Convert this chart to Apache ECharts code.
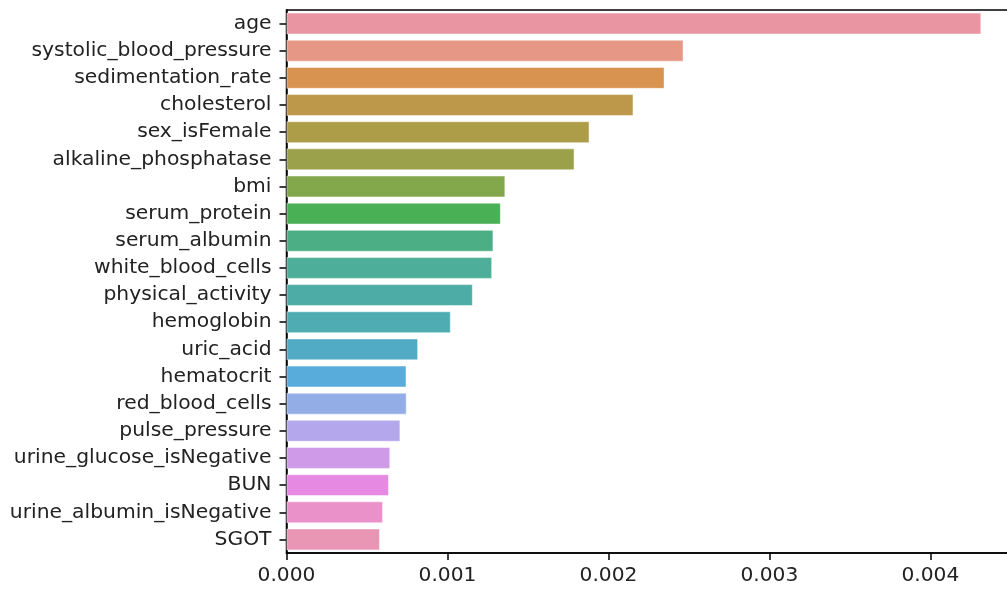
<!DOCTYPE html>
<html>
<head>
<meta charset="utf-8">
<script src="https://cdn.jsdelivr.net/npm/echarts@6/dist/echarts.min.js"></script>
<style>
html,body{margin:0;padding:0;background:#fff;}
#chart{width:1007px;height:589px;}
</style>
</head>
<body>
<div id="chart"></div>
<script>
const features = ["age","systolic_blood_pressure","sedimentation_rate","cholesterol","sex_isFemale","alkaline_phosphatase","bmi","serum_protein","serum_albumin","white_blood_cells","physical_activity","hemoglobin","uric_acid","hematocrit","red_blood_cells","pulse_pressure","urine_glucose_isNegative","BUN","urine_albumin_isNegative","SGOT"];
const importance = [0.004316,0.002466,0.002348,0.002155,0.001882,0.001789,0.001359,0.001331,0.001285,0.001277,0.001157,0.001020,0.000817,0.000745,0.000746,0.000707,0.000644,0.000636,0.000599,0.000580];
const barColors = ["#E995A2","#E69786","#D7934F","#BD974A","#AD9C48","#9BA14A","#83A84C","#4AB055","#4CAE84","#4DAE99","#4EACA7","#50ACB3","#52ABC4","#58ACDB","#93ADE6","#B5A7EC","#CF9AE7","#E689E3","#EA91C9","#E995B4"];
const xTicks = [0,0.001,0.002,0.003,0.004];

const chart = echarts.init(document.getElementById('chart'), null, {renderer:'canvas'});
const font = "'DejaVu Sans', sans-serif";
chart.setOption({
  animation:false,
  backgroundColor:'#fff',
  grid:{left:286.5,right:-9,top:10,bottom:36,show:true,borderColor:'#000',borderWidth:1.5,containLabel:false,outerBoundsMode:'none'},
  xAxis:{
    type:'value',min:0,max:0.004532,interval:0.001,
    axisLine:{show:true,lineStyle:{color:'#000',width:1.5}},
    axisTick:{show:true,length:7,lineStyle:{color:'#000',width:1.5}},
    splitLine:{show:false},
    axisLabel:{color:'#222',fontFamily:font,fontSize:20.2,margin:13,hideOverlap:false,
      formatter:function(v){ return xTicks.some(t=>Math.abs(t-v)<1e-9) ? v.toFixed(3) : ''; }}
  },
  yAxis:{
    type:'category',data:features,inverse:true,
    axisLine:{show:true,lineStyle:{color:'#000',width:1.5}},
    axisTick:{show:true,alignWithLabel:true,length:7,lineStyle:{color:'#000',width:1.5}},
    axisLabel:{color:'#222',fontFamily:font,fontSize:20.3,margin:15}
  },
  series:[{
    type:'bar',
    data:importance.map((v,i)=>({value:v,itemStyle:{color:barColors[i]}})),
    barCategoryGap:'20%',
    itemStyle:{borderColor:'rgba(255,255,255,0.6)',borderWidth:0.8}
  }]
});
</script>
</body>
</html>
